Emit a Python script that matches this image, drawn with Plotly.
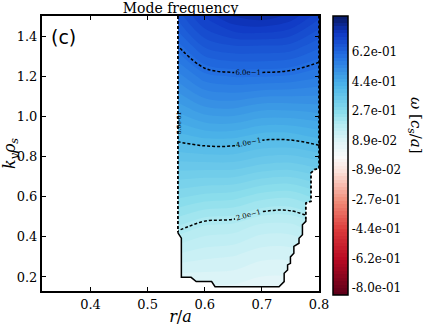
import numpy as np
import plotly.graph_objects as go

# grid
r_grid = [0.553, 0.6, 0.65, 0.7, 0.75, 0.8]
k_grid = [0.15, 0.3, 0.45, 0.6, 0.75, 0.9, 1.05, 1.2, 1.35, 1.5]
# mode frequency omega [c_s/a], one row per k_grid value
omega = [
    [0.074, 0.080, 0.080, 0.070, 0.070, 0.080],
    [0.141, 0.130, 0.125, 0.110, 0.110, 0.130],
    [0.209, 0.185, 0.180, 0.160, 0.160, 0.185],
    [0.277, 0.265, 0.260, 0.240, 0.235, 0.260],
    [0.345, 0.345, 0.345, 0.330, 0.325, 0.340],
    [0.412, 0.425, 0.425, 0.410, 0.410, 0.425],
    [0.475, 0.505, 0.510, 0.495, 0.495, 0.500],
    [0.537, 0.580, 0.590, 0.590, 0.585, 0.570],
    [0.600, 0.655, 0.670, 0.670, 0.665, 0.635],
    [0.660, 0.720, 0.760, 0.770, 0.750, 0.700],
]

# edge of the region where a mode was found
outline_r = [0.553, 0.553, 0.559, 0.559, 0.576, 0.585, 0.612, 0.618, 0.730, 0.739,
             0.739, 0.745, 0.745, 0.750, 0.750, 0.756, 0.756, 0.765, 0.765, 0.771,
             0.771, 0.777, 0.777, 0.777, 0.786, 0.786, 0.792, 0.800, 0.800]
outline_k = [1.5, 0.42, 0.393, 0.198, 0.198, 0.177, 0.177, 0.151, 0.151, 0.177,
             0.218, 0.235, 0.26, 0.268, 0.30, 0.318, 0.352, 0.368, 0.393, 0.41,
             0.46, 0.477, 0.485, 0.568, 0.577, 0.718, 0.735, 0.74, 1.5]

cbar_ticks = [-0.8, -0.622, -0.444, -0.267, -0.089, 0.089, 0.267, 0.444, 0.622]
cbar_text = ["-8.0e-01", "-6.2e-01", "-4.4e-01", "-2.7e-01", "-8.9e-02",
             "8.9e-02", "2.7e-01", "4.4e-01", "6.2e-01"]

cmap = [
    [0.0, "rgb(90,0,25)"], [0.131, "rgb(185,10,35)"], [0.238, "rgb(220,60,60)"],
    [0.339, "rgb(240,140,120)"], [0.446, "rgb(252,225,218)"], [0.5, "rgb(250,250,250)"],
    [0.554, "rgb(225,245,248)"], [0.619, "rgb(180,235,242)"], [0.661, "rgb(140,222,236)"],
    [0.762, "rgb(75,180,232)"], [0.869, "rgb(35,110,225)"], [0.95, "rgb(15,55,195)"],
    [1.0, "rgb(10,30,110)"],
]

serif = "DejaVu Serif"

fig = go.Figure()

fig.add_trace(go.Contour(
    x=r_grid, y=k_grid, z=omega,
    colorscale=cmap, zmin=-0.84, zmax=0.84, zauto=False,
    autocontour=False,
    contours=dict(start=-0.84, end=0.84, size=0.021, coloring="fill", showlines=False),
    line=dict(width=0),
    colorbar=dict(
        x=1.05, xanchor="left", xpad=0, y=0.493, yanchor="middle", ypad=0, len=1.015,
        thickness=15, outlinecolor="black", outlinewidth=1.5,
        tickvals=cbar_ticks, ticktext=cbar_text, ticks="",
        tickfont=dict(size=12, family=serif, color="black"),
    ),
))

fig.add_trace(go.Contour(
    x=r_grid, y=k_grid, z=omega, showscale=False,
    autocontour=False,
    contours=dict(start=0.2, end=0.6, size=0.2, coloring="lines",
                  showlabels=True, labelformat=".1e",
                  labelfont=dict(size=7, color="black", family=serif)),
    colorscale=[[0, "black"], [1, "black"]],
    line=dict(width=1.5, dash="3px,2px", color="black"),
    hoverinfo="skip",
))

# blank out where no mode exists
fig.add_trace(go.Scatter(
    x=outline_r[1:-1], y=outline_k[1:-1], mode="lines", fill="tozeroy",
    fillcolor="white", line=dict(width=0), hoverinfo="skip", showlegend=False,
))
fig.add_trace(go.Scatter(
    x=outline_r[1:23], y=outline_k[1:23], mode="lines",
    line=dict(color="black", width=1.5), showlegend=False,
))
fig.add_trace(go.Scatter(
    x=outline_r[:2], y=outline_k[:2], mode="lines",
    line=dict(color="black", width=1.8, dash="3px,2px"), showlegend=False,
))
fig.add_trace(go.Scatter(
    x=outline_r[22:], y=outline_k[22:], mode="lines",
    line=dict(color="black", width=1.8, dash="3px,2px"), showlegend=False,
))

axis_common = dict(showline=True, linecolor="black", linewidth=2, mirror="ticks",
                   ticks="inside", ticklen=4, tickcolor="black", showgrid=False,
                   zeroline=False, tickfont=dict(size=13, color="black", family=serif))

fig.update_xaxes(range=[0.315, 0.8], tickvals=[0.4, 0.5, 0.6, 0.7, 0.8],
                 ticktext=["0.4", "0.5", "0.6", "0.7", "0.8"],
                 title=dict(text="<i>r</i>/<i>a</i>", font=dict(size=16, family=serif), standoff=8),
                 **axis_common)
fig.update_yaxes(range=[0.13, 1.5], tickvals=[0.2, 0.4, 0.6, 0.8, 1.0, 1.2, 1.4],
                 ticktext=["0.2", "0.4", "0.6", "0.8", "1.0", "1.2", "1.4"],
                 title=dict(text="<i>k<sub>y</sub>ρ<sub>s</sub></i>", font=dict(size=16, family=serif), standoff=2),
                 **axis_common)

fig.add_annotation(text="(c)", xref="paper", yref="paper", x=0.078, y=0.924,
                   xanchor="center", yanchor="middle",
                   showarrow=False, font=dict(size=19, family="DejaVu Sans", color="black"))
fig.add_annotation(text="<i>ω</i> [<i>c<sub>s</sub></i>/<i>a</i>]", xref="paper", yref="paper",
                   x=1.35, y=0.6, xanchor="center", yanchor="middle", textangle=90,
                   showarrow=False, font=dict(size=15, color="black", family=serif))
# contour label sitting on the left edge
fig.add_annotation(text="8.0e-01", x=outline_r[0], y=0.97, xanchor="center", yanchor="middle",
                   textangle=-90, showarrow=False,
                   borderpad=0, font=dict(size=6, color="black", family=serif))

fig.update_layout(
    width=427, height=326,
    margin=dict(l=42, r=108, t=16, b=35, autoexpand=False),
    paper_bgcolor="white", plot_bgcolor="white",
    font=dict(family=serif, color="black"),
    title=dict(text="Mode frequency", x=0.5, xref="paper", y=0.975, yanchor="middle",
               font=dict(size=14, family=serif)),
    showlegend=False,
)

fig.write_html("out.html", config={"displayModeBar": False},
               post_script="document.body.style.margin='0';")
